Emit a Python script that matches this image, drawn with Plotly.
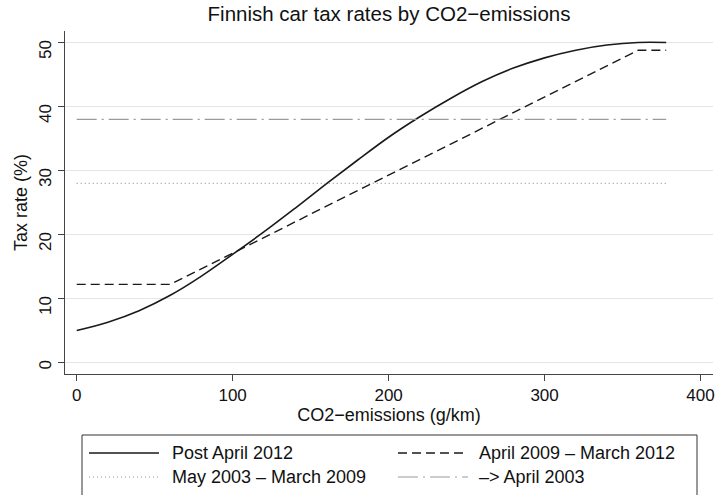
import plotly.graph_objects as go

# ---- data ----
co2_post2012 = [0, 20, 40, 60, 80, 100, 120, 140, 160, 180, 200, 220, 240, 260, 280, 300, 320, 340, 360, 378]
tax_post2012 = [5.0, 6.3, 8.1, 10.5, 13.5, 16.9, 20.4, 24.1, 27.9, 31.6, 35.2, 38.4, 41.3, 43.9, 46.0, 47.6, 48.8, 49.6, 50.0, 50.0]

co2_2009 = [0, 60, 360, 378]
tax_2009 = [12.2, 12.2, 48.8, 48.8]

co2_2003 = [0, 378]
tax_2003 = [28, 28]

co2_pre2003 = [0, 378]
tax_pre2003 = [38, 38]

x_ticks = [0, 100, 200, 300, 400]
y_ticks = [0, 10, 20, 30, 40, 50]

legend_labels = ["Post April 2012", "April 2009 \u2013 March 2012",
                 "May 2003 \u2013 March 2009", "\u2013> April 2003"]

FONT = "Liberation Sans, Arial, sans-serif"
W, H = 716, 495
L, R, T, B = 65, 713, 31, 374

styles = [
    dict(color="#1a1a1a", width=1.6, dash="solid"),
    dict(color="#1a1a1a", width=1.4, dash="9px,5px"),
    dict(color="#9a9a9a", width=1.2, dash="1px,3px"),
    dict(color="#9a9a9a", width=1.2, dash="20px,5px,2px,5px"),
]

fig = go.Figure()
fig.add_trace(go.Scatter(x=co2_post2012, y=tax_post2012, mode="lines",
                         line=dict(**styles[0], shape="spline", smoothing=1.0),
                         name=legend_labels[0], showlegend=False))
fig.add_trace(go.Scatter(x=co2_2009, y=tax_2009, mode="lines", line=styles[1],
                         name=legend_labels[1], showlegend=False))
fig.add_trace(go.Scatter(x=co2_2003, y=tax_2003, mode="lines", line=styles[2],
                         name=legend_labels[2], showlegend=False))
fig.add_trace(go.Scatter(x=co2_pre2003, y=tax_pre2003, mode="lines", line=styles[3],
                         name=legend_labels[3], showlegend=False))


def px_x(p):
    return (p - L) / (R - L)


def px_y(p):
    return (B - p) / (B - T)


shapes = []
annotations = []
# legend box
shapes.append(dict(type="rect", xref="paper", yref="paper",
                   x0=px_x(82), x1=px_x(697), y0=px_y(435), y1=px_y(520),
                   line=dict(color="#333333", width=1), fillcolor="rgba(0,0,0,0)"))
rows = [453, 477]
cols = [(89, 159, 170), (398, 468, 477)]
order = [(0, 0), (0, 1), (1, 0), (1, 1)]
for i, (r, c) in enumerate(order):
    x0, x1, xt = cols[c]
    yy = px_y(rows[r])
    st = styles[i]
    shapes.append(dict(type="line", xref="paper", yref="paper",
                       x0=px_x(x0), x1=px_x(x1), y0=yy, y1=yy,
                       line=dict(color=st["color"], width=st["width"], dash=st["dash"])))
    annotations.append(dict(xref="paper", yref="paper", x=px_x(xt), y=yy,
                            text=legend_labels[i], showarrow=False,
                            xanchor="left", yanchor="middle",
                            font=dict(family=FONT, size=18, color="#111111")))

fig.update_layout(
    width=W, height=H,
    margin=dict(l=L, r=W - R, t=T, b=H - B, pad=0, autoexpand=False),
    paper_bgcolor="white", plot_bgcolor="white",
    title=dict(text="Finnish car tax rates by CO2\u2212emissions",
               x=(L + R) / 2 / W, xanchor="center",
               y=1 - 14 / H, yanchor="middle", automargin=False,
               font=dict(family=FONT, size=20.5, color="#111111")),
    shapes=shapes, annotations=annotations,
    showlegend=False,
)
fig.update_xaxes(range=[-7.5, 408], tickvals=x_ticks, showgrid=False, zeroline=False,
                 automargin=False,
                 showline=True, linecolor="#444444", linewidth=1,
                 ticks="outside", ticklen=6, tickcolor="#444444",
                 tickfont=dict(family=FONT, size=17, color="#111111"),
                 title=dict(text="CO2\u2212emissions (g/km)", standoff=1,
                            font=dict(family=FONT, size=18, color="#111111")))
fig.update_yaxes(range=[-1.8, 51.8], tickvals=y_ticks, showgrid=True,
                 automargin=False,
                 gridcolor="#e6e6e6", gridwidth=1, zeroline=False,
                 showline=True, linecolor="#444444", linewidth=1,
                 ticks="outside", ticklen=6, tickcolor="#444444", tickangle=-89.9,
                 ticklabelstandoff=12,
                 tickfont=dict(family=FONT, size=17, color="#111111"),
                 title=dict(text="Tax rate (%)", standoff=3,
                            font=dict(family=FONT, size=18, color="#111111")))

fig.write_html("out.html", config={"displayModeBar": False},
               post_script="document.body.style.margin='0';document.body.style.overflow='hidden';")
